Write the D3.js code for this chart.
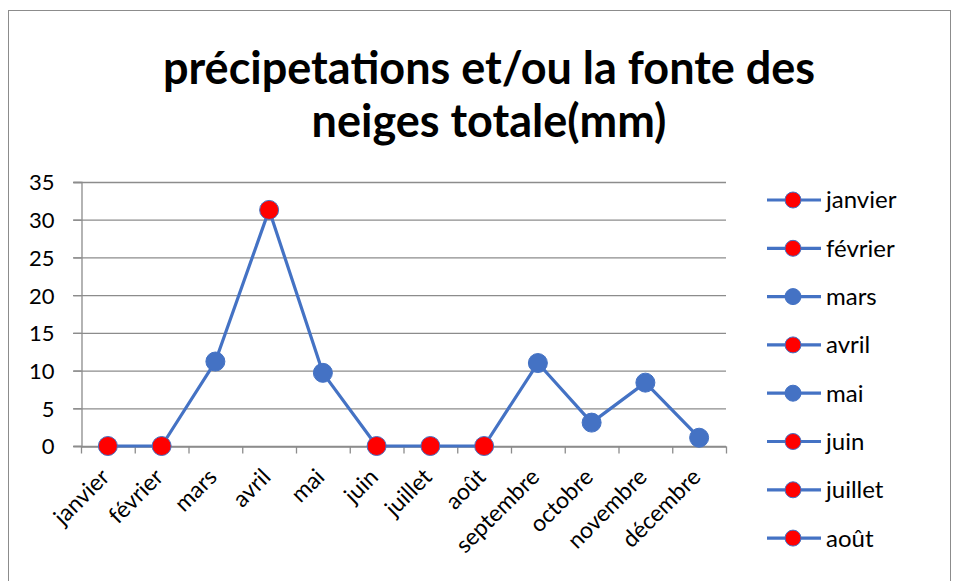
<!DOCTYPE html>
<html><head><meta charset="utf-8">
<script src="https://cdn.jsdelivr.net/npm/d3@7"></script>
<style>body{margin:0;background:#fff}svg{display:block}</style>
</head><body>
<svg id="c" width="957" height="581"></svg>
<script>
const months = ["janvier","février","mars","avril","mai","juin","juillet","août","septembre","octobre","novembre","décembre"];
const values = [0,0,11.2,31.3,9.7,0,0,0,11,3.1,8.4,1.1];
const markerFill = ["red","red","#4472C4","red","#4472C4","red","red","red","#4472C4","#4472C4","#4472C4","#4472C4"];
const yTicks = [0,5,10,15,20,25,30,35];
const titleLines = ["précipetations et/ou la fonte des","neiges totale(mm)"];
const legendItems = months.slice(0,8);

const svg = d3.select("#c");
const font = "Lato, 'Open Sans', sans-serif";
const blue = "#4472C4", grid = "#8c8c8c";

// chart border
svg.append("rect").attr("x",8.5).attr("y",10.5).attr("width",942).attr("height",600)
  .attr("fill","none").attr("stroke","#8c8c8c").attr("stroke-width",1);

// title
svg.append("g").selectAll("text").data(titleLines).join("text")
  .attr("x",489).attr("y",(d,i)=>84+i*53)
  .attr("text-anchor","middle").attr("font-family",font).attr("font-weight","bold")
  .attr("font-size",45).attr("fill","#000").text(d=>d);

const x = d3.scaleBand().domain(months).range([81,726]);
const y = d3.scaleLinear().domain([0,35]).range([446,182]);

// gridlines
svg.append("g").selectAll("line").data(yTicks).join("line")
  .attr("x1",73).attr("x2",726).attr("y1",d=>y(d)+0.5).attr("y2",d=>y(d)+0.5)
  .attr("stroke",grid).attr("stroke-width",1.3);

// y axis
const ya = svg.append("g").attr("transform","translate(81.5,0)")
  .call(d3.axisLeft(y).tickValues(yTicks).tickSize(8).tickPadding(12));
ya.select(".domain").attr("stroke",grid).attr("stroke-width",1.3);
ya.selectAll(".tick line").attr("stroke",grid).attr("stroke-width",1.3);
ya.selectAll(".tick text").attr("font-family",font).attr("font-size",22).attr("fill","#000").attr("dy","0.36em");
ya.selectAll(".tick text").attr("x",-27);

// x axis
const xa = svg.append("g").attr("transform","translate(0,446.5)")
  .call(d3.axisBottom(x).tickSize(0).tickFormat(""));
xa.select(".domain").attr("stroke",grid).attr("stroke-width",1.3);
const bounds = months.map(m=>x(m)).concat([x.range()[1]]);
xa.append("g").selectAll("line").data(bounds).join("line")
  .attr("x1",d=>d+0.5).attr("x2",d=>d+0.5).attr("y1",0).attr("y2",7)
  .attr("stroke",grid).attr("stroke-width",1.3);
xa.append("g").selectAll("text").data(months).join("text")
  .attr("transform",d=>`translate(${x(d)+x.bandwidth()/2+3},${32}) rotate(-45)`)
  .attr("text-anchor","end")
  .attr("font-family",font).attr("font-size",23).attr("fill","#000").text(d=>d);

// line
const cx = d=>x(d)+x.bandwidth()/2;
svg.append("path").datum(values.map((v,i)=>[months[i],v]))
  .attr("d",d3.line().x(d=>cx(d[0])).y(d=>y(d[1])))
  .attr("fill","none").attr("stroke",blue).attr("stroke-width",3.2).attr("stroke-linejoin","round");
svg.append("g").selectAll("circle").data(values).join("circle")
  .attr("cx",(d,i)=>cx(months[i])).attr("cy",d=>y(d)).attr("r",9.5)
  .attr("fill",(d,i)=>markerFill[i]).attr("stroke",blue).attr("stroke-width",1);

// legend
const lg = svg.append("g").selectAll("g").data(legendItems).join("g")
  .attr("transform",(d,i)=>`translate(0,${200+i*48.3})`);
lg.append("line").attr("x1",767).attr("x2",821).attr("stroke",blue).attr("stroke-width",3.2);
lg.append("circle").attr("cx",793).attr("r",8).attr("fill",d=>markerFill[months.indexOf(d)]).attr("stroke",blue).attr("stroke-width",1);
lg.append("text").attr("x",826).attr("dy","0.35em").attr("font-family",font).attr("font-size",24)
  .attr("fill","#000").text(d=>d);
</script>
</body></html>
